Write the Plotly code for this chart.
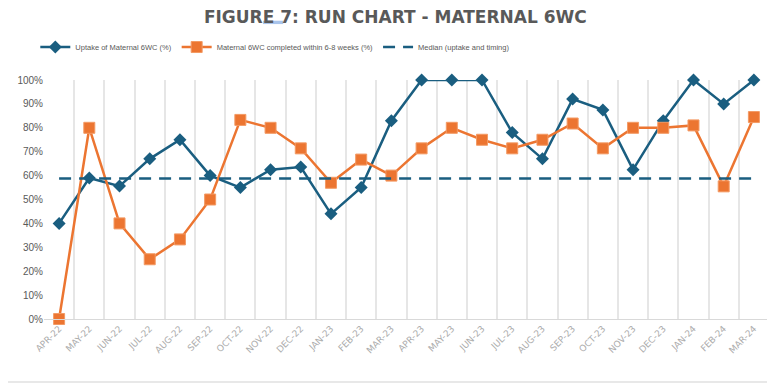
import plotly.graph_objects as go

months = ["APR-22", "MAY-22", "JUN-22", "JUL-22", "AUG-22", "SEP-22", "OCT-22", "NOV-22",
          "DEC-22", "JAN-23", "FEB-23", "MAR-23", "APR-23", "MAY-23", "JUN-23", "JUL-23",
          "AUG-23", "SEP-23", "OCT-23", "NOV-23", "DEC-23", "JAN-24", "FEB-24", "MAR-24"]

uptake = [0.40, 0.59, 0.556, 0.67, 0.75, 0.60, 0.55, 0.625, 0.636, 0.44, 0.55, 0.83,
          1.00, 1.00, 1.00, 0.78, 0.67, 0.92, 0.875, 0.625, 0.83, 1.00, 0.90, 1.00]

timely = [0.00, 0.80, 0.40, 0.25, 0.333, 0.50, 0.833, 0.80, 0.714, 0.57, 0.667, 0.60,
          0.714, 0.80, 0.75, 0.714, 0.75, 0.818, 0.714, 0.80, 0.80, 0.81, 0.555, 0.845]

median_value = 0.588
median_line = [median_value] * len(months)

BLUE = "#1a5e80"
ORANGE = "#ec7531"
GREY = "#595959"

fig = go.Figure()
fig.add_trace(go.Scatter(
    x=months, y=uptake, name="Uptake of Maternal 6WC (%)", mode="lines+markers",
    line=dict(color=BLUE, width=2.5),
    marker=dict(symbol="diamond", size=10, color=BLUE),
    cliponaxis=False,
))
fig.add_trace(go.Scatter(
    x=months, y=timely, name="Maternal 6WC completed within 6-8 weeks (%)", mode="lines+markers",
    line=dict(color=ORANGE, width=2.5),
    marker=dict(symbol="square", size=11, color=ORANGE, line=dict(color="#f39a64", width=1)),
    cliponaxis=False,
))
fig.add_trace(go.Scatter(
    x=months, y=median_line, name="Median (uptake and timing)", mode="lines",
    line=dict(color=BLUE, width=2.5, dash="12px,8px"),
))

fig.update_layout(
    width=767, height=381,
    margin=dict(l=36, r=6, t=72, b=70),
    paper_bgcolor="white", plot_bgcolor="white",
    title=dict(text="<b>FIGURE 7: RUN CHART - MATERNAL 6WC</b>", x=0.505, xanchor="center",
               y=0.976, yanchor="middle",
               font=dict(family="DejaVu Sans", size=17, color=GREY)),
    legend=dict(orientation="h", x=-0.012, xanchor="left", y=1.138, yanchor="middle",
                font=dict(family="Liberation Sans Narrow, Liberation Sans", size=7.5, color=GREY),
                itemwidth=30, tracegroupgap=0, bgcolor="rgba(0,0,0,0)"),
    showlegend=True,
)
fig.update_xaxes(
    type="category", tickson="boundaries", showgrid=True, gridcolor="#e6e6e6", gridwidth=1.5,
    ticks="", tickangle=-45, showline=True, linecolor="#d9d9d9", linewidth=1,
    tickfont=dict(family="DejaVu Sans", size=9, color="#acacac"),
    range=[-0.5, 23.5], automargin=False,
)
fig.update_yaxes(
    range=[0, 1], tickformat=".0%", dtick=0.1, showgrid=False, zeroline=False,
    showline=False, ticks="", tickfont=dict(family="Liberation Sans", size=10, color=GREY),
    automargin=False,
)
fig.add_shape(type="line", xref="paper", yref="paper", x0=-0.06, x1=1.01,
              y0=-0.264, y1=-0.264, line=dict(color="#e0e0e0", width=1.5))
fig.add_shape(type="rect", xref="paper", yref="paper", x0=0.302, x1=0.33,
              y0=1.234, y1=1.248, line=dict(width=0), fillcolor="#a9c4eb")

fig.write_html("out.html")
